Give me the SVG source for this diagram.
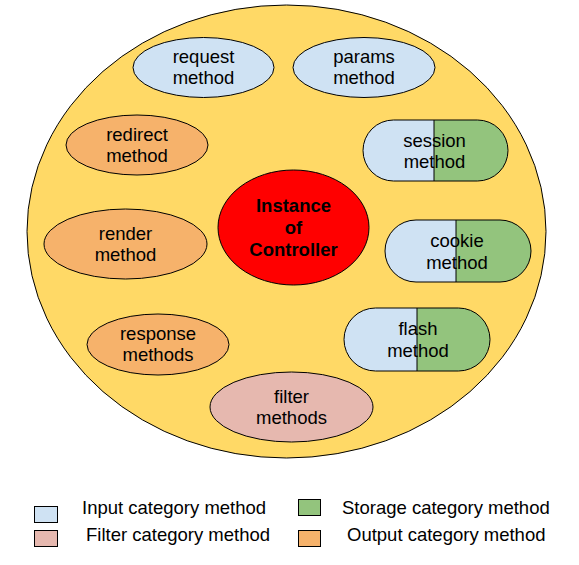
<svg xmlns="http://www.w3.org/2000/svg" width="579" height="565" viewBox="0 0 579 565">
<style>
text{font-family:"Liberation Sans",Arial,sans-serif;font-size:18.5px;fill:#000;text-anchor:middle}
.b{font-weight:bold}
.l{text-anchor:start}
.s{stroke:#000;stroke-width:1}
.blue{fill:#cfe2f3}.green{fill:#93c47d}.orange{fill:#f6b26b}.pink{fill:#e6b8af}
</style>
<rect width="579" height="565" fill="#fff"/>
<g id="container"><ellipse cx="286.5" cy="231.5" rx="259.5" ry="226.5" fill="#ffd966" class="s"/></g>
<g id="connectors"></g>
<g id="request"><ellipse cx="203.5" cy="67.5" rx="70.5" ry="30" class="s blue"/><text x="203.5" y="63">request</text><text x="203.5" y="84">method</text></g>
<g id="params"><ellipse cx="364" cy="67.5" rx="71" ry="30" class="s blue"/><text x="364" y="63">params</text><text x="364" y="84">method</text></g>
<g id="redirect"><ellipse cx="137" cy="145" rx="71" ry="30" class="s orange"/><text x="137" y="141">redirect</text><text x="137" y="162">method</text></g>
<g id="render"><ellipse cx="125.5" cy="244" rx="81.5" ry="35" class="s orange"/><text x="125.5" y="240">render</text><text x="125.5" y="261">method</text></g>
<g id="response"><ellipse cx="158" cy="344.5" rx="71" ry="30.5" class="s orange"/><text x="158" y="340">response</text><text x="158" y="361">methods</text></g>
<g id="filter"><ellipse cx="291.5" cy="407" rx="81.5" ry="35" class="s pink"/><text x="291.5" y="403">filter</text><text x="291.5" y="424">methods</text></g>
<g id="instance"><ellipse cx="293.5" cy="227.5" rx="75.5" ry="57.5" fill="#ff0000" class="s"/><text class="b" x="293.5" y="212">Instance</text><text class="b" x="293.5" y="234">of</text><text class="b" x="293.5" y="256">Controller</text></g>
<g id="session">
<path class="blue" d="M434 120H393.5A30.5 30.5 0 0 0 393.5 181H434Z"/>
<path class="green" d="M434 120H477.5A30.5 30.5 0 0 1 477.5 181H434Z"/>
<rect x="363" y="120" width="145" height="61" rx="30.5" fill="none" class="s"/>
<line x1="434" y1="120" x2="434" y2="181" class="s"/>
<text x="434.5" y="147">session</text><text x="434.5" y="168">method</text></g>
<g id="cookie">
<path class="blue" d="M456 220H416A31 31 0 0 0 416 282H456Z"/>
<path class="green" d="M456 220H500A31 31 0 0 1 500 282H456Z"/>
<rect x="385" y="220" width="146" height="62" rx="31" fill="none" class="s"/>
<line x1="456" y1="220" x2="456" y2="282" class="s"/>
<text x="457" y="247">cookie</text><text x="457" y="269">method</text></g>
<g id="flash">
<path class="blue" d="M417 308H375.5A31.5 31.5 0 0 0 375.5 371H417Z"/>
<path class="green" d="M417 308H458.5A31.5 31.5 0 0 1 458.5 371H417Z"/>
<rect x="344" y="308" width="146" height="63" rx="31.5" fill="none" class="s"/>
<line x1="417" y1="308" x2="417" y2="371" class="s"/>
<text x="418" y="335">flash</text><text x="418" y="357">method</text></g>
<g id="legend">
<rect x="34.5" y="506.5" width="23" height="16" class="s blue"/><text class="l" x="82" y="514">Input category method</text>
<rect x="34.5" y="530.5" width="23" height="16" class="s pink"/><text class="l" x="86" y="541">Filter category method</text>
<rect x="298.5" y="499.5" width="22" height="16" class="s green"/><text class="l" x="342" y="514">Storage category method</text>
<rect x="298.5" y="530.5" width="22" height="16" class="s orange"/><text class="l" x="347" y="541">Output category method</text>
</g>
</svg>
